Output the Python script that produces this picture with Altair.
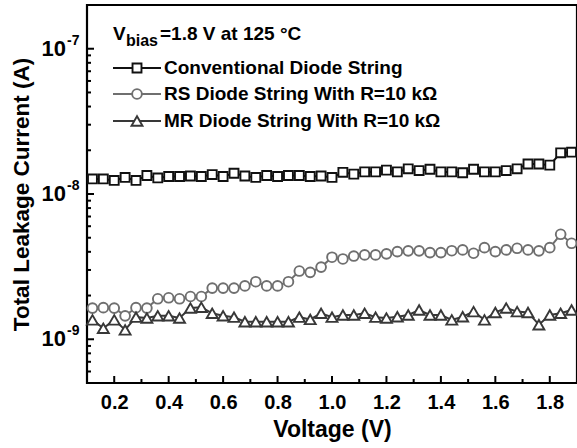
import altair as alt
import pandas as pd

# ---------------- data ----------------
voltage = [0.12, 0.16, 0.20, 0.24, 0.28, 0.32, 0.36, 0.40, 0.44, 0.48,
           0.52, 0.56, 0.60, 0.64, 0.68, 0.72, 0.76, 0.80, 0.84, 0.88,
           0.92, 0.96, 1.00, 1.04, 1.08, 1.12, 1.16, 1.20, 1.24, 1.28,
           1.32, 1.36, 1.40, 1.44, 1.48, 1.52, 1.56, 1.60, 1.64, 1.68,
           1.72, 1.76, 1.80, 1.84, 1.88]

conventional = [1.27e-8, 1.27e-8, 1.24e-8, 1.30e-8, 1.24e-8, 1.34e-8, 1.29e-8, 1.32e-8, 1.32e-8, 1.33e-8,
                1.32e-8, 1.36e-8, 1.32e-8, 1.39e-8, 1.33e-8, 1.30e-8, 1.34e-8, 1.32e-8, 1.34e-8, 1.34e-8,
                1.32e-8, 1.33e-8, 1.30e-8, 1.41e-8, 1.37e-8, 1.42e-8, 1.42e-8, 1.46e-8, 1.42e-8, 1.49e-8,
                1.45e-8, 1.48e-8, 1.42e-8, 1.42e-8, 1.40e-8, 1.48e-8, 1.42e-8, 1.42e-8, 1.45e-8, 1.49e-8,
                1.61e-8, 1.61e-8, 1.58e-8, 1.92e-8, 1.94e-8]

rs_string = [1.64e-9, 1.65e-9, 1.64e-9, 1.45e-9, 1.65e-9, 1.64e-9, 1.90e-9, 1.93e-9, 1.90e-9, 1.97e-9,
             1.97e-9, 2.25e-9, 2.25e-9, 2.25e-9, 2.33e-9, 2.49e-9, 2.33e-9, 2.33e-9, 2.49e-9, 2.95e-9,
             2.89e-9, 3.14e-9, 3.67e-9, 3.57e-9, 3.74e-9, 3.81e-9, 3.81e-9, 3.87e-9, 4.01e-9, 4.06e-9,
             4.06e-9, 3.95e-9, 3.95e-9, 4.07e-9, 4.12e-9, 3.91e-9, 4.27e-9, 4.01e-9, 4.12e-9, 4.23e-9,
             4.12e-9, 4.06e-9, 4.27e-9, 5.28e-9, 4.58e-9]

mr_string = [1.36e-9, 1.19e-9, 1.36e-9, 1.16e-9, 1.42e-9, 1.40e-9, 1.45e-9, 1.45e-9, 1.40e-9, 1.64e-9,
             1.66e-9, 1.51e-9, 1.45e-9, 1.42e-9, 1.32e-9, 1.32e-9, 1.32e-9, 1.32e-9, 1.32e-9, 1.42e-9,
             1.37e-9, 1.51e-9, 1.42e-9, 1.47e-9, 1.47e-9, 1.51e-9, 1.42e-9, 1.40e-9, 1.43e-9, 1.47e-9,
             1.59e-9, 1.47e-9, 1.47e-9, 1.36e-9, 1.43e-9, 1.55e-9, 1.36e-9, 1.53e-9, 1.64e-9, 1.55e-9,
             1.53e-9, 1.26e-9, 1.47e-9, 1.51e-9, 1.59e-9]

series_names = ["Conventional Diode String",
                "RS Diode String With R=10 k\u03a9",
                "MR Diode String With R=10 k\u03a9"]
series_values = [conventional, rs_string, mr_string]

x_tick_labels = [0.2, 0.4, 0.6, 0.8, 1.0, 1.2, 1.4, 1.6, 1.8]
x_minor = [0.3, 0.5, 0.7, 0.9, 1.1, 1.3, 1.5, 1.7]
y_major = [1e-9, 1e-8, 1e-7]
y_major_exp = ["-9", "-8", "-7"]
y_minor = [6e-10, 7e-10, 8e-10, 9e-10,
           2e-9, 3e-9, 4e-9, 5e-9, 6e-9, 7e-9, 8e-9, 9e-9,
           2e-8, 3e-8, 4e-8, 5e-8, 6e-8, 7e-8, 8e-8, 9e-8]

# ---------------- styling ----------------
FONT = "Liberation Sans"
W, H = 490, 378
colors = ["#111111", "#6f6f6f", "#383838"]
shapes = ["square", "circle", "triangle-up"]
sizes = [80, 95, 120]

x_scale = alt.Scale(domain=[0.1, 1.9], nice=False, zero=False)
y_scale = alt.Scale(type="log", domain=[5e-10, 2e-7], nice=False)

x_axis = alt.Axis(values=x_tick_labels, format=".1f", labelFont=FONT, labelFontSize=20,
                  labelFontWeight="bold", labelColor="black", ticks=False, domain=False,
                  grid=False, labelPadding=9, title="Voltage (V)", titleFont=FONT,
                  titleFontSize=23, titleFontWeight="bold", titleColor="black", titlePadding=6)
y_axis = alt.Axis(labels=False, ticks=False, domain=False, grid=False,
                  title="Total Leakage Current (A)", titleFont=FONT, titleFontSize=22.5,
                  titleFontWeight="bold", titleColor="black", titlePadding=54)


def X(field="x"):
    return alt.X(f"{field}:Q", scale=x_scale, axis=x_axis)


def Y(field="y"):
    return alt.Y(f"{field}:Q", scale=y_scale, axis=y_axis)


layers = []

# inward ticks (x axis)
layers.append(alt.Chart(pd.DataFrame({"x": x_tick_labels})).mark_rule(color="black", strokeWidth=2)
              .encode(x=X(), y=alt.value(H), y2=alt.value(H - 7)))
layers.append(alt.Chart(pd.DataFrame({"x": x_minor})).mark_rule(color="black", strokeWidth=2)
              .encode(x=X(), y=alt.value(H), y2=alt.value(H - 4)))
# inward ticks (y axis)
layers.append(alt.Chart(pd.DataFrame({"y": y_major})).mark_rule(color="black", strokeWidth=2)
              .encode(y=Y(), x=alt.value(0), x2=alt.value(7)))
layers.append(alt.Chart(pd.DataFrame({"y": y_minor})).mark_rule(color="black", strokeWidth=2)
              .encode(y=Y(), x=alt.value(0), x2=alt.value(4)))

# y tick labels: 10 with superscript exponent
ylab = pd.DataFrame({"y": y_major, "e": y_major_exp})
layers.append(alt.Chart(ylab).mark_text(font=FONT, fontSize=22, fontWeight="bold", align="right",
                                        baseline="middle", color="black")
              .encode(y=Y(), x=alt.value(-21), text=alt.value("10")))
layers.append(alt.Chart(ylab).mark_text(font=FONT, fontSize=14, fontWeight="bold", align="left",
                                        baseline="middle", color="black", dy=-8)
              .encode(y=Y(), x=alt.value(-20), text="e:N"))

# data series
for name, vals, color, shape, size in zip(series_names, series_values, colors, shapes, sizes):
    d = pd.DataFrame({"x": voltage, "y": vals})
    base = alt.Chart(d)
    layers.append(base.mark_line(color=color, strokeWidth=2).encode(x=X(), y=Y()))
    layers.append(base.mark_point(shape=shape, filled=True, fill="white", stroke=color,
                                  strokeWidth=1.9, size=size, opacity=1)
                  .encode(x=X(), y=Y()))

# legend (manual)
one = pd.DataFrame({"k": [0]})
lx0 = 113 - 87
layers.append(alt.Chart(one).mark_text(font=FONT, fontSize=19, fontWeight="bold", align="left",
                                       baseline="alphabetic", color="black")
              .encode(x=alt.value(lx0), y=alt.value(40 - 5), text=alt.value("V")))
layers.append(alt.Chart(one).mark_text(font=FONT, fontSize=16, fontWeight="bold", align="left",
                                       baseline="alphabetic", color="black")
              .encode(x=alt.value(126 - 87), y=alt.value(46 - 5), text=alt.value("bias")))
layers.append(alt.Chart(one).mark_text(font=FONT, fontSize=19, fontWeight="bold", align="left",
                                       baseline="alphabetic", color="black")
              .encode(x=alt.value(160 - 87), y=alt.value(40 - 5), text=alt.value("=1.8 V at 125 \u00b0C")))

row_y = [68, 94, 121]
for name, color, shape, size, ry in zip(series_names, colors, shapes, sizes, row_y):
    yy = ry - 5
    layers.append(alt.Chart(one).mark_rule(color=color, strokeWidth=2.2)
                  .encode(x=alt.value(113 - 87), x2=alt.value(161 - 87), y=alt.value(yy)))
    layers.append(alt.Chart(one).mark_point(shape=shape, filled=True, fill="white", stroke=color,
                                            strokeWidth=1.9, size=size, opacity=1)
                  .encode(x=alt.value(137 - 87), y=alt.value(yy)))
    layers.append(alt.Chart(pd.DataFrame({"t": [name]})).mark_text(
        font=FONT, fontSize=19, fontWeight="bold", align="left", baseline="middle", color="black")
        .encode(x=alt.value(164 - 87), y=alt.value(yy), text="t:N"))

chart = alt.layer(*layers).properties(
    width=W, height=H,
    autosize=alt.AutoSizeParams(type="none"),
    padding={"left": 87, "top": 5, "right": 0, "bottom": 65},
    background="white",
).configure_view(stroke="black", strokeWidth=2.2)

chart.save("out.html", embed_options={"renderer": "svg", "actions": False})
